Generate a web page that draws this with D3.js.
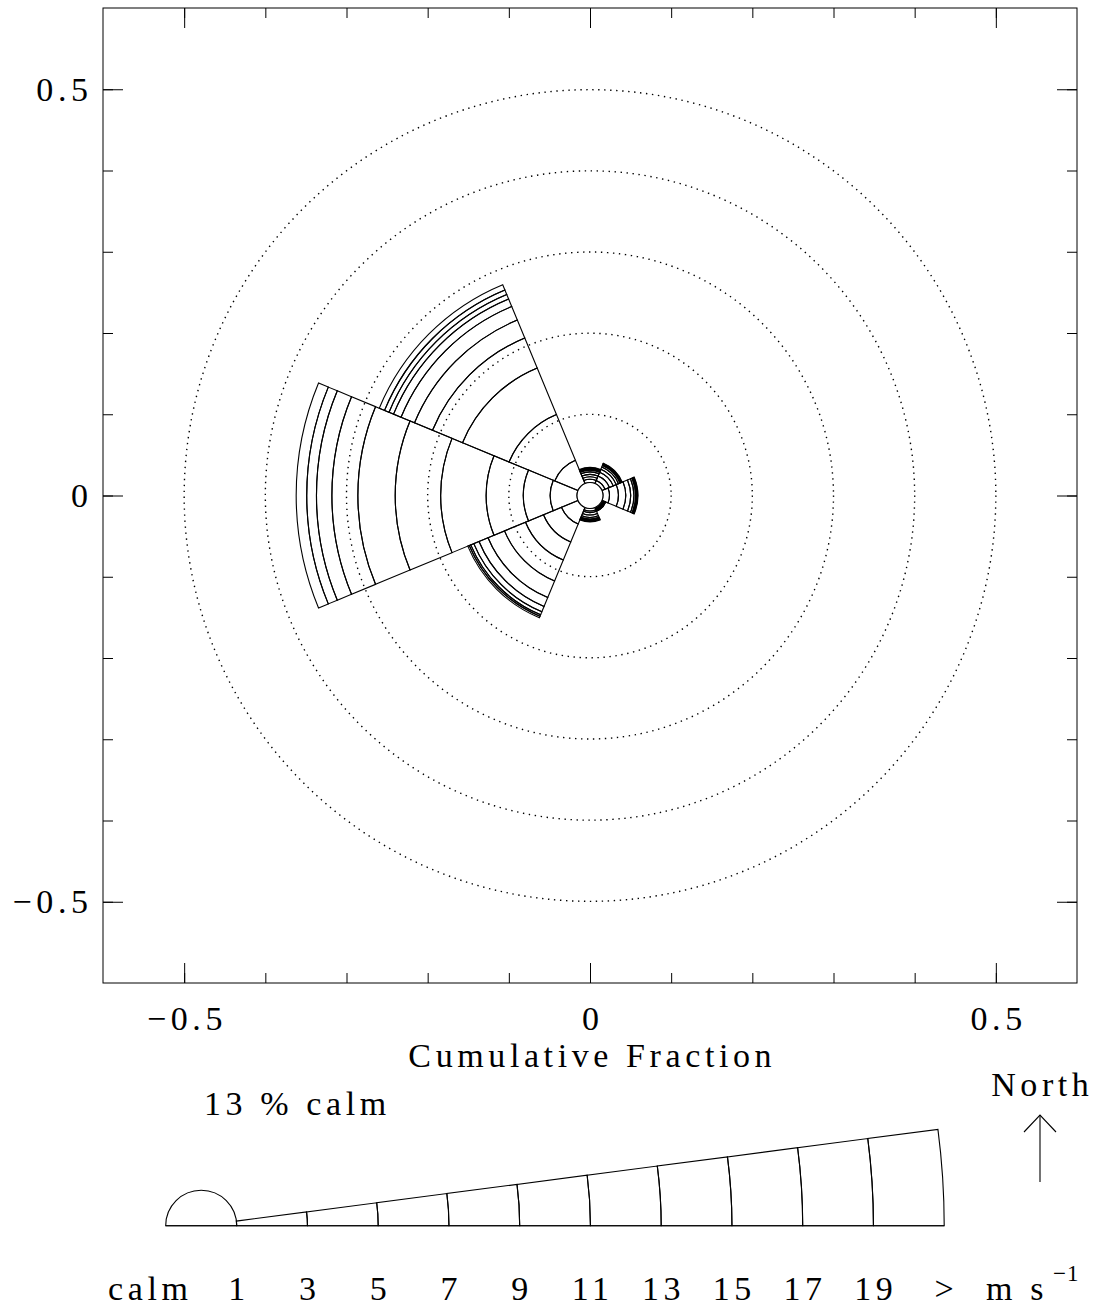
<!DOCTYPE html>
<html lang="en">
<head>
<meta charset="utf-8">
<title>Wind rose</title>
<script src="https://d3js.org/d3.v7.min.js"></script>
<style>
    body { margin: 0; background: white; }
    text {
      font-family: 'Liberation Serif', 'Times New Roman', serif;
      fill: black;
    }
    .sector { fill: none; stroke: black; stroke-width: 1.1; }
    .ring { fill: none; stroke: black; stroke-width: 1.4; stroke-dasharray: 1.4 4.6; }
</style>
</head>
<body>
<div id="container"></div>
<script>
var w = 1095;
var h = 1311;

// ---------------------------//
//            DATA            //
// ---------------------------//

// compass direction of each sector centre (degrees from north)
var sectorNames  = ["N", "NE", "E", "SE", "S", "SW", "W", "NW"];
var sectorAngles = [0, 45, 90, 135, 180, 225, 270, 315];

// cumulative fraction at the top of each speed class (3,5,...,19,>)
var fracN  = [0.020, 0.023, 0.026, 0.029, 0.031, 0.032, 0.033, 0.0335, 0.034, 0.0345];
var fracNE = [0.020, 0.026, 0.031, 0.035, 0.038, 0.040, 0.041, 0.042, 0.0425, 0.043];
var fracE  = [0.024, 0.035, 0.044, 0.050, 0.054, 0.056, 0.057, 0.058, 0.0585, 0.059];
var fracSE = [0.0175, 0.0183, 0.019, 0.0195, 0.0199, 0.0202, 0.0205, 0.0207, 0.0209, 0.021];
var fracS  = [0.019, 0.021, 0.024, 0.027, 0.029, 0.030, 0.031, 0.0315, 0.032, 0.0325];
var fracSW = [0.038, 0.062, 0.086, 0.114, 0.136, 0.148, 0.155, 0.159, 0.161, 0.163];
var fracW  = [0.049, 0.082, 0.128, 0.184, 0.240, 0.286, 0.318, 0.337, 0.349, 0.362];
var fracNW = [0.047, 0.108, 0.170, 0.210, 0.234, 0.252, 0.262, 0.268, 0.274, 0.281];

var calmRadius  = 0.016;
var calmPercent = 13;

var speedLabels = ["1", "3", "5", "7", "9", "11", "13", "15", "17", "19", ">"];
var ringValues  = [0.1, 0.2, 0.3, 0.4, 0.5];
var majorTicks  = [-0.5, 0, 0.5];
var minorTicks  = [-0.5, -0.4, -0.3, -0.2, -0.1, 0, 0.1, 0.2, 0.3, 0.4, 0.5];

var sectorFracs = [fracN, fracNE, fracE, fracSE, fracS, fracSW, fracW, fracNW];

var fs = 34;     // character height used by every label
var ls = 4.6;    // letter spacing

// ---------------------------//
//        SVG + SCALES        //
// ---------------------------//

var svg = d3.select("div#container")
            .append("svg")
            .attr("width", w)
            .attr("height", h)
            .style("background-color", "white");

var x = d3.scaleLinear().domain([-0.6, 0.6]).range([103, 1077]);
var y = d3.scaleLinear().domain([-0.6, 0.6]).range([983, 8]);
var r = function(d) { return x(d) - x(0); };

var deg = Math.PI / 180;
var arc = d3.arc();

var rose = svg.append("g")
    .attr("transform", "translate(" + x(0) + "," + y(0) + ")");

// dotted reference circles
rose.selectAll("circle.ring")
    .data(ringValues)
    .enter()
    .append("circle")
    .attr("class", "ring")
    .attr("r", function(d) { return r(d); });

// ---------------------------//
//          SECTORS           //
// ---------------------------//

var segments = [];
sectorFracs.forEach(function(fr, i) {
  var bounds = [calmRadius].concat(fr);
  for (var k = 0; k < fr.length; k++) {
    segments.push({
      dir: sectorNames[i],
      innerRadius: r(bounds[k]),
      outerRadius: r(bounds[k + 1]),
      startAngle: (sectorAngles[i] - 22.5) * deg,
      endAngle: (sectorAngles[i] + 22.5) * deg
    });
  }
});

rose.selectAll("path.sector")
    .data(segments)
    .enter()
    .append("path")
    .attr("class", "sector")
    .attr("d", arc);

// calm circle
rose.append("circle")
    .attr("r", r(calmRadius))
    .attr("fill", "white")
    .attr("stroke", "black")
    .attr("stroke-width", 1.1);

// ---------------------------//
//         FRAME + AXES       //
// ---------------------------//

svg.append("rect")
    .attr("x", x(-0.6)).attr("y", y(0.6))
    .attr("width", x(0.6) - x(-0.6))
    .attr("height", y(-0.6) - y(0.6))
    .attr("fill", "none")
    .attr("stroke", "black")
    .attr("stroke-width", 1);

var fmt = function(d) { return d === 0 ? "0" : d3.format(".1f")(d); };

function drawAxis(axisFn, scale, tx, ty, labels) {
  var bottom = axisFn === d3.axisBottom;
  var gMin = svg.append("g").attr("transform", "translate(" + tx + "," + ty + ")")
      .call(axisFn(scale).tickValues(minorTicks).tickSize(-10).tickFormat(""));
  var gMaj = svg.append("g").attr("transform", "translate(" + tx + "," + ty + ")")
      .call(axisFn(scale).tickValues(majorTicks).tickSize(-20)
            .tickPadding(bottom ? 23 : 15)
            .tickFormat(labels ? fmt : ""));
  [gMin, gMaj].forEach(function(g) {
    g.select(".domain").remove();
    g.selectAll("line").attr("stroke", "black").attr("stroke-width", 1);
    g.attr("font-family", null).attr("font-size", null);
  });
  gMaj.selectAll("text")
      .attr("font-size", fs)
      .attr("dx", bottom ? ls / 2 : ls)
      .style("letter-spacing", ls + "px");
}

drawAxis(d3.axisBottom, x, 0, y(-0.6), true);
drawAxis(d3.axisTop, x, 0, y(0.6), false);
drawAxis(d3.axisLeft, y, x(-0.6), 0, true);
drawAxis(d3.axisRight, y, x(0.6), 0, false);

svg.append("text")
    .attr("x", x(0) + ls / 2)
    .attr("y", 1067)
    .attr("text-anchor", "middle")
    .attr("font-size", fs)
    .style("letter-spacing", ls + "px")
    .text("Cumulative Fraction");

// ---------------------------//
//           LEGEND           //
// ---------------------------//

var apex = [201.2, 1225.7];
var wedgeAngle = 7.45;
var lr = d3.scaleLinear().domain([0, speedLabels.length - 1]).range([35.5, 743]);

var legend = svg.append("g")
    .attr("transform", "translate(" + apex[0] + "," + apex[1] + ")");

// calm half circle
legend.append("path")
    .attr("class", "sector")
    .attr("d", arc({innerRadius: 0, outerRadius: lr(0),
                    startAngle: -90 * deg, endAngle: 90 * deg}));

// baseline
legend.append("line")
    .attr("x1", -lr(0)).attr("x2", lr(speedLabels.length - 1))
    .attr("y1", 0).attr("y2", 0)
    .attr("stroke", "black").attr("stroke-width", 1.1);

var legendBins = d3.pairs(speedLabels.map(function(d, i) { return i; }));
legend.selectAll("path.bin")
    .data(legendBins)
    .enter()
    .append("path")
    .attr("class", "sector")
    .attr("d", function(d) {
      return arc({innerRadius: lr(d[0]), outerRadius: lr(d[1]),
                  startAngle: (90 - wedgeAngle) * deg, endAngle: 90 * deg});
    });

var labelY = 1300;
svg.selectAll("text.speed")
    .data(speedLabels)
    .enter()
    .append("text")
    .attr("class", "speed")
    .attr("x", function(d, i) { return apex[0] + lr(i) + ls / 2; })
    .attr("y", labelY)
    .attr("text-anchor", "middle")
    .attr("font-size", fs)
    .style("letter-spacing", ls + "px")
    .text(function(d) { return d; });

svg.append("text")
    .attr("x", 148 + ls / 2).attr("y", labelY)
    .attr("text-anchor", "middle")
    .attr("font-size", fs)
    .style("letter-spacing", ls + "px")
    .text("calm");

var unit = svg.append("text")
    .attr("x", 986).attr("y", labelY)
    .attr("font-size", fs)
    .style("letter-spacing", ls + "px");
unit.append("tspan").text("m s");
unit.append("tspan").attr("font-size", 23).attr("dx", 5).attr("dy", -19)
    .style("letter-spacing", "1px").text("\u22121");

svg.append("text")
    .attr("x", 204).attr("y", 1115)
    .attr("font-size", fs)
    .style("letter-spacing", ls + "px")
    .text(calmPercent + " % calm");

// north arrow
svg.append("text")
    .attr("x", 1040 + ls / 2).attr("y", 1096)
    .attr("text-anchor", "middle")
    .attr("font-size", fs)
    .style("letter-spacing", ls + "px")
    .text("North");

var arrow = svg.append("g").attr("stroke", "black").attr("stroke-width", 1.1).attr("fill", "none");
arrow.append("line").attr("x1", 1040).attr("x2", 1040).attr("y1", 1115).attr("y2", 1182);
arrow.append("polyline").attr("points", "1024,1132 1040,1115 1056,1132");
</script>
</body>
</html>
